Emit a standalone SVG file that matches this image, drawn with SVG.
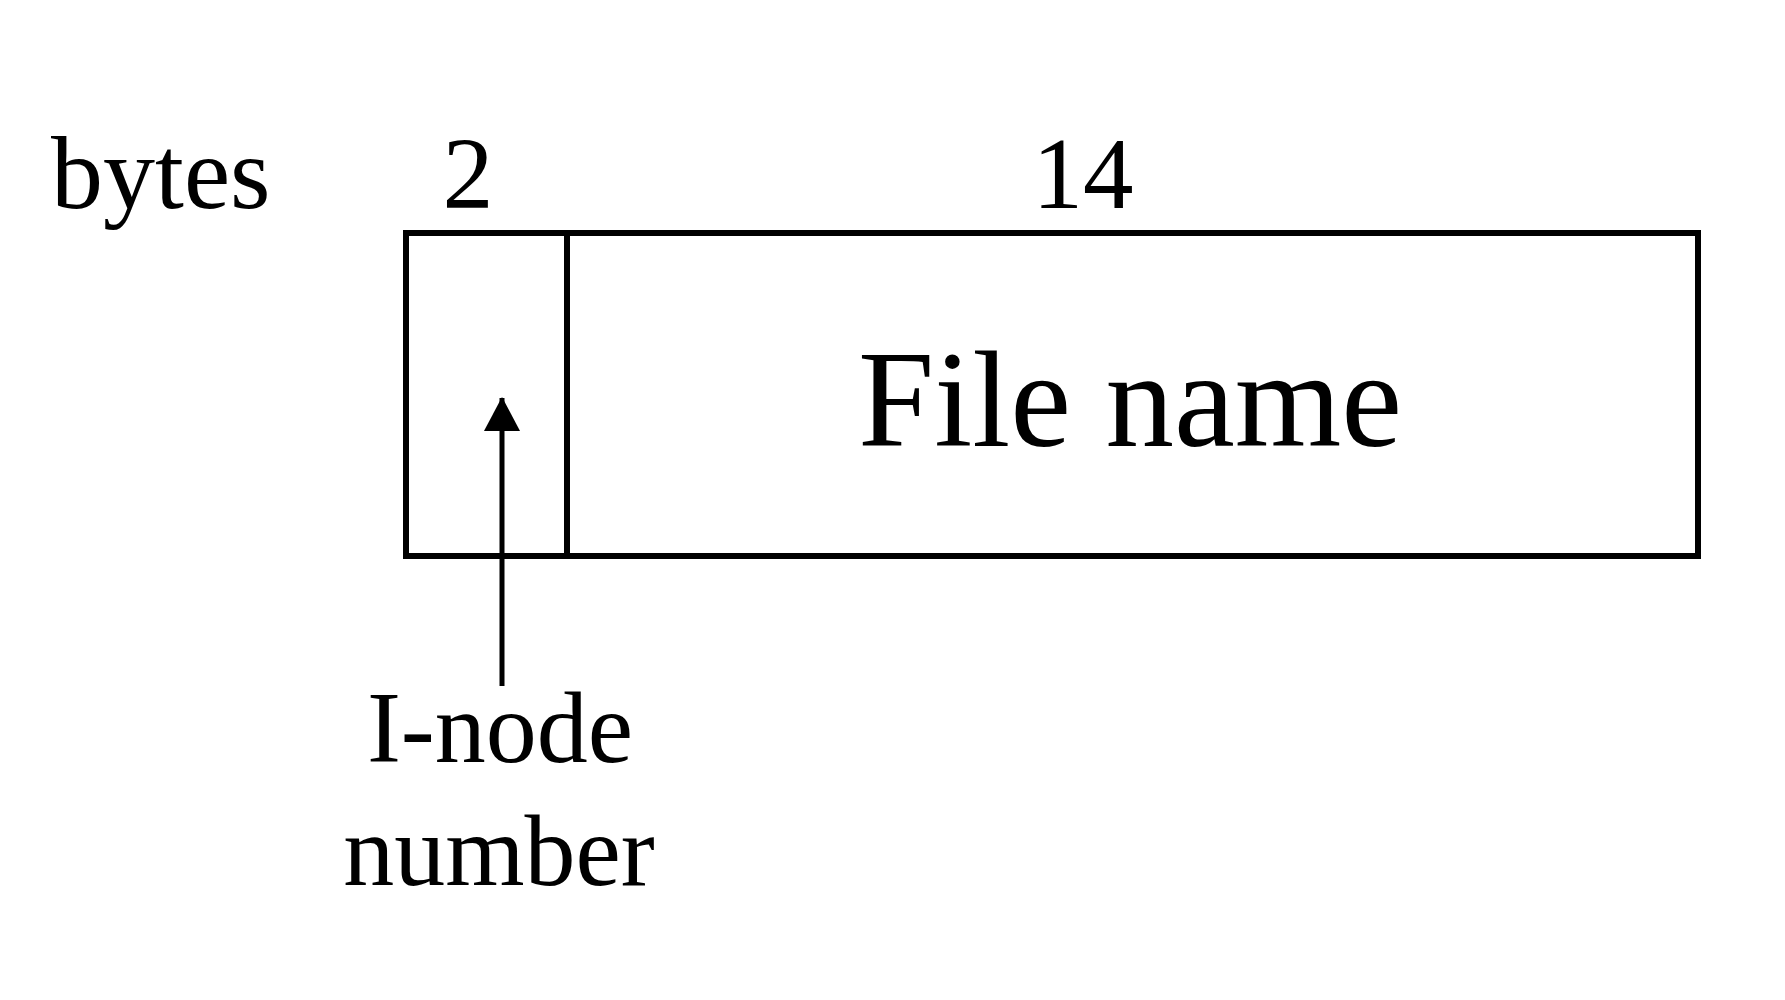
<svg xmlns="http://www.w3.org/2000/svg" width="1785" height="1000" viewBox="0 0 1785 1000">
<style>
.t{font-family:"Liberation Serif","Times New Roman",serif;fill:#000}
.box{fill:none;stroke:#000;stroke-width:6}
.conn{stroke:#000;stroke-width:5;fill:none}
</style>
<defs>
<marker id="ah" markerUnits="userSpaceOnUse" markerWidth="36" markerHeight="36" refX="33" refY="18" orient="auto">
<path d="M0,0 L34,18 L0,36 Z" fill="#000"/>
</marker>
</defs>
<rect width="1785" height="1000" fill="#fff"/>
<g id="labels">
<text class="t" x="51" y="208" font-size="104">bytes</text>
<text class="t" x="468" y="208" font-size="102" text-anchor="middle">2</text>
<text class="t" x="1083" y="208" font-size="101" text-anchor="middle">14</text>
</g>
<g id="inode-field">
<rect class="box" x="406" y="233" width="161" height="323"/>
</g>
<g id="filename-field">
<rect class="box" x="567" y="233" width="1131" height="323"/>
<text class="t" x="858" y="446" font-size="137">File name</text>
</g>
<g id="inode-label">
<text class="t" x="500" y="762" font-size="102" text-anchor="middle">I-node</text>
<text class="t" x="499" y="885" font-size="102" text-anchor="middle">number</text>
</g>
<g id="connectors">
<line class="conn" x1="502" y1="686" x2="502" y2="398" marker-end="url(#ah)"/>
</g>
</svg>
